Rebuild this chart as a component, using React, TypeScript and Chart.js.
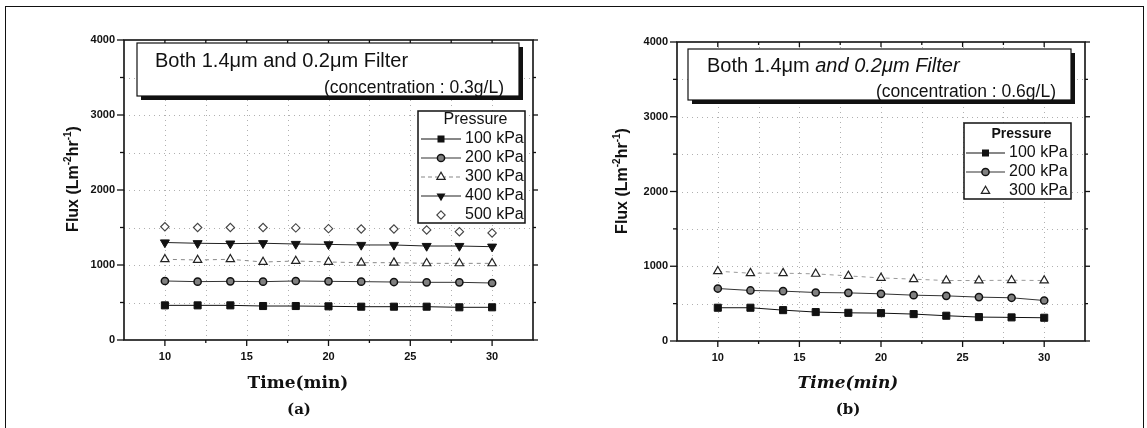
import React, { useEffect, useRef } from 'react';
import { Chart, registerables } from 'chart.js';
Chart.register(...registerables);

// ---------- data ----------
const timeMin = [10, 12, 14, 16, 18, 20, 22, 24, 26, 28, 30];
const timeTicks = [10, 15, 20, 25, 30];
const fluxTicks = [0, 1000, 2000, 3000, 4000];
const pressureLabels = ['100 kPa', '200 kPa', '300 kPa', '400 kPa', '500 kPa'];

// (a) concentration 0.3 g/L
const fluxA100 = [462, 462, 462, 453, 453, 449, 444, 444, 444, 436, 436];
const fluxA200 = [787, 778, 782, 778, 787, 782, 778, 773, 769, 769, 760];
const fluxA300 = [1076, 1067, 1076, 1040, 1053, 1040, 1031, 1031, 1022, 1022, 1022];
const fluxA400 = [1300, 1290, 1285, 1290, 1280, 1275, 1267, 1267, 1253, 1253, 1244];
const fluxA500 = [1510, 1500, 1500, 1500, 1495, 1485, 1480, 1480, 1467, 1444, 1427];

// (b) concentration 0.6 g/L
const fluxB100 = [445, 445, 413, 387, 377, 373, 360, 338, 320, 316, 311];
const fluxB200 = [702, 676, 667, 649, 644, 631, 613, 604, 587, 578, 542];
const fluxB300 = [933, 907, 907, 898, 871, 844, 827, 809, 809, 813, 809];

// ---------- styles ----------
const SANS = '"Liberation Sans", Arial, sans-serif';
const SERIF = '"DejaVu Serif", "Liberation Serif", serif';

type Kind = 'square' | 'circle' | 'tri' | 'triDown' | 'diamond';
type LineKind = 'solid' | 'dash' | 'none';
interface Series { label: string; data: number[]; kind: Kind; line: LineKind; legendLine: LineKind; lineColor: string; }

const seriesA: Series[] = [
  { label: pressureLabels[0], data: fluxA100, kind: 'square', line: 'solid', legendLine: 'solid', lineColor: '#111' },
  { label: pressureLabels[1], data: fluxA200, kind: 'circle', line: 'solid', legendLine: 'solid', lineColor: '#333' },
  { label: pressureLabels[2], data: fluxA300, kind: 'tri', line: 'dash', legendLine: 'dash', lineColor: '#888' },
  { label: pressureLabels[3], data: fluxA400, kind: 'triDown', line: 'solid', legendLine: 'solid', lineColor: '#222' },
  { label: pressureLabels[4], data: fluxA500, kind: 'diamond', line: 'none', legendLine: 'none', lineColor: '#888' },
];
const seriesB: Series[] = [
  { label: pressureLabels[0], data: fluxB100, kind: 'square', line: 'solid', legendLine: 'solid', lineColor: '#111' },
  { label: pressureLabels[1], data: fluxB200, kind: 'circle', line: 'solid', legendLine: 'solid', lineColor: '#333' },
  { label: pressureLabels[2], data: fluxB300, kind: 'tri', line: 'dash', legendLine: 'none', lineColor: '#999' },
];

interface Panel {
  left: number; width: number;
  area: { left: number; right: number; top: number; bottom: number };
  series: Series[];
  titleBox: { x0: number; x1: number; y0: number; y1: number; line1: { t: string; italic: boolean }[]; line1X: number; line1Y: number; line2: string; line2X: number; line2Y: number };
  legend: { x0: number; x1: number; y0: number; y1: number; titleY: number; titleFont: string; rowY0: number; rowStep: number; lineX0: number; lineX1: number; textX: number };
  yTitleX: number; yTitleY: number;
  xTitle: string; xTitleFont: string; xTitleX: number; xTitleY: number;
  subLabel: string; subX: number; subY: number;
}

const panelA: Panel = {
  left: 0, width: 560,
  area: { left: 124, right: 533, top: 40, bottom: 340 },
  series: seriesA,
  titleBox: {
    x0: 137, x1: 519, y0: 43, y1: 96,
    line1: [{ t: 'Both 1.4\u03bcm and 0.2\u03bcm Filter', italic: false }], line1X: 155, line1Y: 61,
    line2: '(concentration : 0.3g/L)', line2X: 504, line2Y: 88,
  },
  legend: { x0: 418, x1: 525, y0: 111, y1: 223, titleY: 120, titleFont: `16px ${SANS}`, rowY0: 139, rowStep: 19, lineX0: 421, lineX1: 461, textX: 465 },
  yTitleX: 72, yTitleY: 179,
  xTitle: 'Time(min)', xTitleFont: `bold 17px ${SERIF}`, xTitleX: 298, xTitleY: 384,
  subLabel: '(a)', subX: 299, subY: 410,
};

const panelB: Panel = {
  left: 560, width: 587,
  area: { left: 677, right: 1085, top: 42, bottom: 341 },
  series: seriesB,
  titleBox: {
    x0: 688, x1: 1071, y0: 49, y1: 100,
    line1: [{ t: 'Both 1.4\u03bcm ', italic: false }, { t: 'and 0.2\u03bcm Filter', italic: true }], line1X: 707, line1Y: 66,
    line2: '(concentration : 0.6g/L)', line2X: 1056, line2Y: 92,
  },
  legend: { x0: 964, x1: 1071, y0: 123, y1: 199, titleY: 134, titleFont: `bold 14px ${SANS}`, rowY0: 153, rowStep: 19, lineX0: 966, lineX1: 1005, textX: 1009 },
  yTitleX: 621, yTitleY: 181,
  xTitle: 'Time(min)', xTitleFont: `italic bold 17px ${SERIF}`, xTitleX: 848, xTitleY: 384,
  subLabel: '(b)', subX: 848, subY: 410,
};

// ---------- helpers ----------
function pointProps(kind: Kind) {
  switch (kind) {
    case 'square': return { pointStyle: 'rect', pointRadius: 5, pointRotation: 0, pointBackgroundColor: '#111', pointBorderColor: '#111', pointBorderWidth: 1 };
    case 'circle': return { pointStyle: 'circle', pointRadius: 3.6, pointRotation: 0, pointBackgroundColor: '#808080', pointBorderColor: '#111', pointBorderWidth: 1.5 };
    case 'tri': return { pointStyle: 'triangle', pointRadius: 4.8, pointRotation: 0, pointBackgroundColor: '#fff', pointBorderColor: '#222', pointBorderWidth: 1.2 };
    case 'triDown': return { pointStyle: 'triangle', pointRadius: 5.2, pointRotation: 180, pointBackgroundColor: '#111', pointBorderColor: '#111', pointBorderWidth: 1 };
    case 'diamond': return { pointStyle: 'rectRot', pointRadius: 4.2, pointRotation: 0, pointBackgroundColor: '#fff', pointBorderColor: '#444', pointBorderWidth: 1.1 };
  }
}

function drawMarker(ctx: CanvasRenderingContext2D, kind: Kind, x: number, y: number) {
  ctx.save();
  ctx.setLineDash([]);
  ctx.beginPath();
  if (kind === 'square') {
    ctx.fillStyle = '#111';
    ctx.fillRect(x - 3.5, y - 3.5, 7, 7);
  } else if (kind === 'circle') {
    ctx.arc(x, y, 3.6, 0, Math.PI * 2);
    ctx.fillStyle = '#808080'; ctx.fill();
    ctx.lineWidth = 1.5; ctx.strokeStyle = '#111'; ctx.stroke();
  } else if (kind === 'tri' || kind === 'triDown') {
    const r = kind === 'tri' ? 4.8 : 5.2;
    const s = kind === 'tri' ? 1 : -1;
    ctx.moveTo(x, y - s * r);
    ctx.lineTo(x - r * 0.866, y + s * r * 0.5);
    ctx.lineTo(x + r * 0.866, y + s * r * 0.5);
    ctx.closePath();
    if (kind === 'tri') { ctx.fillStyle = '#fff'; ctx.fill(); ctx.lineWidth = 1.2; ctx.strokeStyle = '#222'; ctx.stroke(); }
    else { ctx.fillStyle = '#111'; ctx.fill(); }
  } else {
    const r = 4.2;
    ctx.moveTo(x, y - r); ctx.lineTo(x + r, y); ctx.lineTo(x, y + r); ctx.lineTo(x - r, y); ctx.closePath();
    ctx.fillStyle = '#fff'; ctx.fill(); ctx.lineWidth = 1.1; ctx.strokeStyle = '#444'; ctx.stroke();
  }
  ctx.restore();
}

function seg(ctx: CanvasRenderingContext2D, x0: number, y0: number, x1: number, y1: number) {
  ctx.beginPath(); ctx.moveTo(x0, y0); ctx.lineTo(x1, y1); ctx.stroke();
}

function makePlugin(p: Panel) {
  const ox = p.left;
  return {
    id: 'figure' + p.subLabel,
    beforeDatasetsDraw(chart: any) {
      const { ctx, chartArea: a, scales } = chart;
      const xs = scales.x, ys = scales.y;
      ctx.save();
      ctx.strokeStyle = '#b0b0b0'; ctx.lineWidth = 1; ctx.setLineDash([1, 4]);
      for (let v = 10; v <= 30; v += 2.5) {
        const px = Math.round(xs.getPixelForValue(v)) + 0.5;
        seg(ctx, px, a.top, px, a.bottom);
      }
      for (let v = 500; v < 4000; v += 500) {
        const py = Math.round(ys.getPixelForValue(v)) + 0.5;
        seg(ctx, a.left, py, a.right, py);
      }
      ctx.restore();
    },
    afterDraw(chart: any) {
      const { ctx, chartArea: a, scales } = chart;
      const xs = scales.x, ys = scales.y;
      ctx.save();
      // frame
      ctx.strokeStyle = '#111'; ctx.lineWidth = 1.6; ctx.setLineDash([]);
      ctx.strokeRect(a.left, a.top, a.right - a.left, a.bottom - a.top);
      // ticks
      ctx.lineWidth = 1.3;
      for (let v = 10; v <= 30; v += 2.5) {
        const px = xs.getPixelForValue(v);
        const major = v % 5 === 0;
        seg(ctx, px, a.bottom, px, a.bottom + (major ? 6 : 3));
        seg(ctx, px, a.top, px, a.top + (major ? 5 : 3));
      }
      for (let v = 0; v <= 4000; v += 500) {
        const py = ys.getPixelForValue(v);
        const major = v % 1000 === 0;
        seg(ctx, a.left - (major ? 7 : 4), py, a.left, py);
        seg(ctx, a.right, py, a.right + (major ? 5 : 3), py);
      }
      // title box
      const tb = p.titleBox;
      ctx.fillStyle = '#111';
      ctx.fillRect(tb.x0 - ox + 4, tb.y0 + 4, tb.x1 - tb.x0, tb.y1 - tb.y0);
      ctx.fillStyle = '#fff';
      ctx.fillRect(tb.x0 - ox, tb.y0, tb.x1 - tb.x0, tb.y1 - tb.y0);
      ctx.lineWidth = 1.2; ctx.strokeStyle = '#111';
      ctx.strokeRect(tb.x0 - ox, tb.y0, tb.x1 - tb.x0, tb.y1 - tb.y0);
      ctx.fillStyle = '#111';
      ctx.textBaseline = 'middle';
      ctx.textAlign = 'left';
      let tx = tb.line1X - ox;
      for (const s of tb.line1) {
        ctx.font = `${s.italic ? 'italic ' : ''}20px ${SANS}`;
        ctx.fillText(s.t, tx, tb.line1Y);
        tx += ctx.measureText(s.t).width;
      }
      ctx.font = `17.5px ${SANS}`;
      ctx.textAlign = 'right';
      ctx.fillText(tb.line2, tb.line2X - ox, tb.line2Y);
      // legend
      const lg = p.legend;
      ctx.fillStyle = '#fff';
      ctx.fillRect(lg.x0 - ox, lg.y0, lg.x1 - lg.x0, lg.y1 - lg.y0);
      ctx.lineWidth = 1.5; ctx.strokeStyle = '#111';
      ctx.strokeRect(lg.x0 - ox, lg.y0, lg.x1 - lg.x0, lg.y1 - lg.y0);
      ctx.fillStyle = '#111';
      ctx.font = lg.titleFont;
      ctx.textAlign = 'center';
      ctx.fillText('Pressure', (lg.x0 + lg.x1) / 2 + 4 - ox, lg.titleY);
      p.series.forEach((s, i) => {
        const y = lg.rowY0 + i * lg.rowStep;
        const mx = (lg.lineX0 + lg.lineX1) / 2 - ox;
        if (s.legendLine !== 'none') {
          ctx.save();
          ctx.strokeStyle = s.lineColor; ctx.lineWidth = 1.2;
          ctx.setLineDash(s.legendLine === 'dash' ? [4, 3] : []);
          seg(ctx, lg.lineX0 - ox, y, lg.lineX1 - ox, y);
          ctx.restore();
        }
        drawMarker(ctx, s.kind, mx, y);
        ctx.fillStyle = '#111';
        ctx.font = `16px ${SANS}`;
        ctx.textAlign = 'left';
        ctx.fillText(s.label, lg.textX - ox, y);
      });
      // y title (rotated, with superscripts)
      const parts = [
        { t: 'Flux (Lm', sup: false }, { t: '-2', sup: true },
        { t: 'hr', sup: false }, { t: '-1', sup: true }, { t: ')', sup: false },
      ];
      ctx.save();
      ctx.translate(p.yTitleX - ox, p.yTitleY);
      ctx.rotate(-Math.PI / 2);
      ctx.textAlign = 'left'; ctx.textBaseline = 'alphabetic';
      let total = 0;
      for (const q of parts) { ctx.font = q.sup ? `bold 10px ${SANS}` : `bold 16px ${SANS}`; total += ctx.measureText(q.t).width; }
      let ux = -total / 2;
      for (const q of parts) {
        ctx.font = q.sup ? `bold 10px ${SANS}` : `bold 16px ${SANS}`;
        ctx.fillText(q.t, ux, q.sup ? -1.5 : 6);
        ux += ctx.measureText(q.t).width;
      }
      ctx.restore();
      // x title and sub-label
      ctx.textAlign = 'center'; ctx.textBaseline = 'middle';
      ctx.font = p.xTitleFont;
      ctx.fillText(p.xTitle, p.xTitleX - ox, p.xTitleY);
      ctx.font = `bold 15px ${SERIF}`;
      ctx.fillText(p.subLabel, p.subX - ox, p.subY);
      ctx.restore();
    },
  };
}

function PanelChart({ p }: { p: Panel }) {
  const ref = useRef<HTMLCanvasElement | null>(null);
  useEffect(() => {
    if (!ref.current) return;
    const yW = p.area.left - p.left;
    const padR = p.left + p.width - p.area.right;
    const xH = 428 - p.area.bottom;
    const chart = new Chart(ref.current, {
      type: 'line',
      data: {
        datasets: p.series.map((s) => ({
          label: s.label,
          data: s.data.map((v, i) => ({ x: timeMin[i], y: v })),
          showLine: s.line !== 'none',
          borderColor: s.lineColor,
          borderWidth: 1,
          borderDash: s.line === 'dash' ? [4, 4] : [],
          tension: 0,
          fill: false,
          ...pointProps(s.kind),
        })) as any,
      },
      options: {
        responsive: false,
        maintainAspectRatio: false,
        animation: false,
        layout: { padding: { left: 0, right: padR, top: p.area.top, bottom: 0 } },
        plugins: { legend: { display: false }, tooltip: { enabled: false }, title: { display: false } },
        scales: {
          x: {
            type: 'linear', min: 7.5, max: 32.5,
            afterBuildTicks: (sc: any) => { sc.ticks = timeTicks.map((v) => ({ value: v })); },
            afterFit: (sc: any) => { sc.height = xH; },
            grid: { display: false, drawTicks: false },
            border: { display: false },
            ticks: { padding: 10, maxRotation: 0, color: '#111', font: { family: SANS, weight: 'bold', size: 11 }, callback: (v: any) => String(v) },
          },
          y: {
            type: 'linear', min: 0, max: 4000,
            afterBuildTicks: (sc: any) => { sc.ticks = fluxTicks.map((v) => ({ value: v })); },
            afterFit: (sc: any) => { sc.width = yW; },
            grid: { display: false, drawTicks: false },
            border: { display: false },
            ticks: { padding: 9, color: '#111', font: { family: SANS, weight: 'bold', size: 11 }, callback: (v: any) => String(v) },
          },
        },
      } as any,
      plugins: [makePlugin(p)],
    });
    return () => chart.destroy();
  }, [p]);
  return (
    <canvas
      ref={ref}
      width={p.width}
      height={428}
      style={{ position: 'absolute', left: p.left, top: 0, width: p.width, height: 428 }}
    />
  );
}

export default function App() {
  return (
    <div style={{ position: 'absolute', left: 0, top: 0, width: 1147, height: 428, background: '#fff', overflow: 'hidden' }}>
      <PanelChart p={panelA} />
      <PanelChart p={panelB} />
      <div style={{ position: 'absolute', left: 5, top: 6, width: 1139, height: 440, border: '1.6px solid #111', boxSizing: 'border-box', pointerEvents: 'none' }} />
    </div>
  );
}
